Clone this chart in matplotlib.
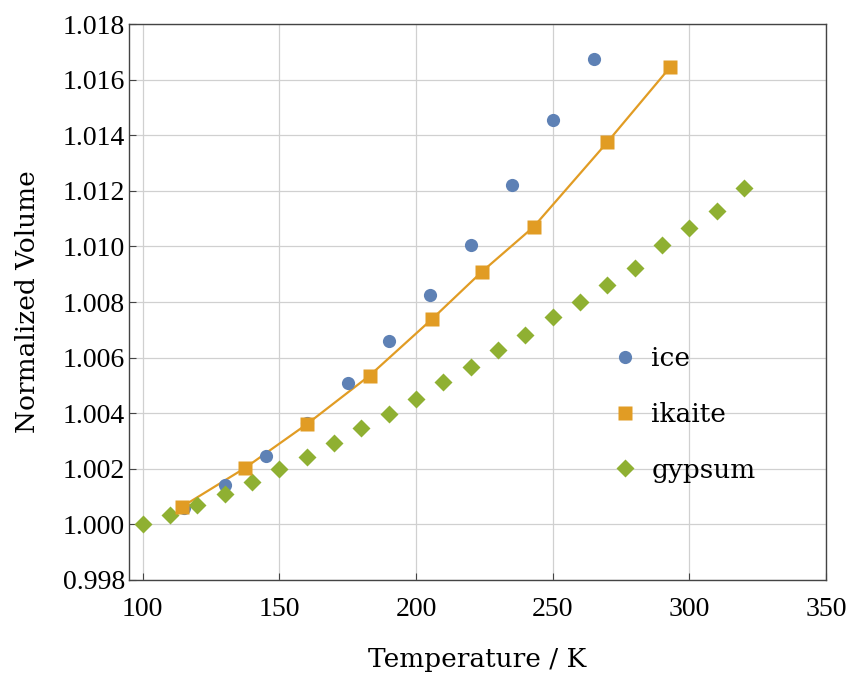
import matplotlib
matplotlib.use('Agg')
from matplotlib import pyplot as plt

# ice
ice_t = [115, 130, 145, 160, 175, 190, 205, 220, 235, 250, 265]
ice_v = [1.0006, 1.0014, 1.00245, 1.00363, 1.00507, 1.00658, 1.00824, 1.01004, 1.0122, 1.01453, 1.01673]

# ikaite
ika_t = [114.3, 137.3, 160, 183, 206, 224, 243, 270, 293]
ika_v = [1.00063, 1.00202, 1.0036, 1.00535, 1.0074, 1.00908, 1.0107, 1.01375, 1.01645]

# gypsum
gyp_t = [100, 110, 120, 130, 140, 150, 160, 170, 180, 190, 200, 210,
         220, 230, 240, 250, 260, 270, 280, 290, 300, 310, 320]
gyp_v = [1.0000, 1.00032, 1.00071, 1.0011, 1.00152, 1.00198, 1.00243, 1.00292, 1.00345,
         1.00397, 1.00452, 1.00512, 1.00566, 1.00626, 1.00683, 1.00745, 1.00799,
         1.00860, 1.00921, 1.01004, 1.01065, 1.01126, 1.0121]

blue = '#5E81B5'
orange = '#E19C24'
green = '#8FB032'

plt.rcParams['font.family'] = ['DejaVu Serif']

fig = plt.figure(figsize=(8.52, 6.73), dpi=100)
ax = fig.add_axes([0.1514, 0.1382, 0.8181, 0.8261])

ax.plot(ika_t, ika_v, color=orange, lw=1.6, zorder=2)
ax.plot(ice_t, ice_v, 'o', color=blue, ms=9.5, mec='none', label='ice', zorder=3)
ax.plot(ika_t, ika_v, 's', color=orange, ms=9.5, mec='none', label='ikaite', zorder=4)
ax.plot(gyp_t, gyp_v, 'D', color=green, ms=9, mec='none', label='gypsum', zorder=3)

ax.set_xlim(95, 350)
ax.set_ylim(0.998, 1.018)
ax.set_xticks([100, 150, 200, 250, 300, 350])
ax.set_yticks([0.998 + 0.002 * i for i in range(11)])
ax.set_yticklabels(['%.3f' % (0.998 + 0.002 * i) for i in range(11)])
for lab in ax.get_xticklabels() + ax.get_yticklabels():
    lab.set_family(['Liberation Serif'])
    lab.set_fontsize(20)
ax.grid(True, color='#d0d0d0', lw=0.9)
ax.set_axisbelow(True)
ax.tick_params(direction='in', length=5, width=0.8, color='#444444')
ax.tick_params(axis='x', pad=12)
ax.tick_params(axis='y', pad=3)
for s in ax.spines.values():
    s.set_color('#444444')
    s.set_linewidth(1)

ax.set_xlabel('Temperature / K', fontsize=19, labelpad=18)
ax.set_ylabel('Normalized Volume', fontsize=19, labelpad=16)

ax.legend(loc='center left', bbox_to_anchor=(0.6927, 0.298), frameon=False,
          fontsize=19, borderpad=0, handletextpad=0.5, labelspacing=1.17,
          handlelength=1, borderaxespad=0)

fig.savefig('out.png', dpi=100)
